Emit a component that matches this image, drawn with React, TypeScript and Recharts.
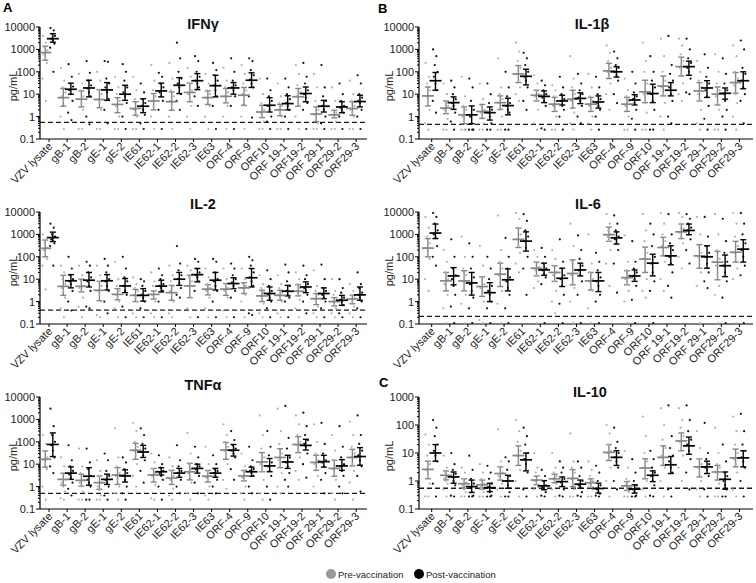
import React from 'react';
import { ComposedChart, Scatter, XAxis, YAxis, ReferenceLine, ErrorBar } from 'recharts';

const CATEGORIES = ['VZV lysate', 'gB-1', 'gB-2', 'gE-1', 'gE-2', 'IE61', 'IE62-1', 'IE62-2', 'IE62-3', 'IE63', 'ORF-4', 'ORF-9', 'ORF10', 'ORF 19-1', 'ORF19-2', 'ORF 29-1', 'ORF29-2', 'ORF29-3'];
const MAJORS_5 = [0.1, 1, 10, 100, 1000, 10000];
const MAJORS_4 = [0.1, 1, 10, 100, 1000];
const LEGEND = ['Pre-vaccination', 'Post-vaccination'];

// ---------- IFNγ ----------
const IFNG_PRE_MID = [720, 7, 6, 5.8, 3.5, 2.3, 5, 4.6, 12, 7, 8, 9, 1.6, 2, 7.7, 1.3, 1.2, 2.3];
const IFNG_PRE_LO = [330, 2.9, 2.7, 2.5, 1.5, 1.15, 2, 1.9, 4.6, 3.5, 4.1, 3.2, 0.9, 1.1, 2.9, 0.6, 0.87, 1.15];
const IFNG_PRE_HI = [1400, 18, 14, 16, 7, 4.6, 10.7, 12.6, 31, 14, 18, 20, 3.2, 3.5, 18, 2.7, 1.9, 4.6];
const IFNG_POST_MID = [3000, 16.6, 19, 15.5, 10, 2.9, 14, 25, 40, 24, 19, 42, 3.2, 3.8, 10.7, 2.9, 2.7, 4.7];
const IFNG_POST_LO = [2100, 10, 7.6, 5.3, 5.3, 1.5, 7.6, 10.7, 16, 7.6, 10, 20, 1.6, 2, 4.6, 1.6, 1.5, 2.7];
const IFNG_POST_HI = [5000, 31, 42, 33, 25, 6.3, 31, 55, 83, 70, 33, 90, 7, 8.5, 21, 5.3, 4.6, 9];
const IFNG_PRE_DOTS = [
  [4000, 2000, 1200, 900, 600, 400, 250, 50, 5],
  [150, 40, 20, 12, 8, 5, 3, 1, 0.28],
  [80, 30, 15, 8, 6, 4, 2, 0.28, 0.28],
  [100, 40, 15, 10, 6, 4, 2, 0.28, 0.28],
  [60, 20, 10, 5, 3, 2, 1, 0.28, 0.28],
  [60, 15, 6, 3, 2, 1.5, 1, 0.28, 0.28],
  [200, 40, 15, 8, 5, 3, 2, 1, 0.28],
  [250, 50, 15, 8, 5, 3, 2, 1, 0.28],
  [150, 60, 30, 15, 10, 6, 3, 1, 0.28],
  [80, 30, 15, 10, 7, 5, 3, 1, 0.28],
  [150, 40, 20, 12, 8, 5, 3, 1, 0.28],
  [200, 80, 30, 15, 10, 6, 3, 1, 0.28],
  [50, 10, 4, 2, 1.5, 1, 0.6, 0.28, 0.28],
  [30, 8, 4, 3, 2, 1.5, 1, 0.28, 0.28],
  [200, 80, 25, 12, 8, 5, 3, 1, 0.28],
  [80, 20, 5, 2, 1.2, 0.8, 0.5, 0.28, 0.28],
  [20, 5, 2, 1.5, 1.2, 0.9, 0.6, 0.28, 0.28],
  [40, 10, 5, 3, 2, 1.5, 1, 0.28, 0.28],
];
const IFNG_POST_DOTS = [
  [9000, 7000, 5000, 4000, 3000, 2500, 1800, 1200, 100],
  [220, 60, 30, 22, 15, 10, 5, 1.5, 0.7],
  [300, 90, 40, 25, 18, 12, 8, 1, 0.45],
  [300, 280, 50, 30, 20, 12, 6, 2, 0.5],
  [220, 100, 40, 20, 12, 8, 4, 1, 0.28],
  [30, 12, 6, 4, 3, 2, 1.2, 0.5, 0.28],
  [90, 60, 30, 20, 12, 8, 5, 2, 0.28],
  [2000, 400, 100, 50, 30, 20, 10, 5, 2],
  [500, 300, 100, 60, 40, 30, 20, 8, 3],
  [250, 120, 70, 40, 25, 15, 8, 3, 0.28],
  [400, 100, 40, 25, 20, 15, 8, 3, 0.28],
  [400, 300, 120, 70, 45, 30, 20, 8, 0.9],
  [50, 15, 8, 5, 3, 2, 1, 0.6, 0.28],
  [50, 20, 10, 6, 4, 3, 2, 1, 0.28],
  [250, 60, 30, 15, 10, 7, 4, 2, 0.28],
  [200, 20, 8, 5, 3, 2, 1, 0.5, 0.28],
  [30, 10, 5, 3, 2.5, 2, 1.5, 1, 0.28],
  [70, 30, 10, 7, 5, 4, 2, 1, 0.28],
];

// ---------- IL-1β ----------
const IL1B_PRE_MID = [8.4, 2.4, 1.2, 1.7, 4.2, 80, 9, 3.6, 6, 3.6, 110, 3.6, 12.7, 23, 170, 14, 10, 33];
const IL1B_PRE_LO = [3, 1.35, 0.48, 0.83, 2.1, 33, 5, 1.7, 2.4, 1.7, 50, 1.7, 4.2, 8.4, 65, 5, 3.3, 11];
const IL1B_PRE_HI = [21, 5, 2.7, 3.5, 8.4, 190, 15, 7.2, 15, 7.2, 240, 7.2, 42, 65, 450, 33, 21, 93];
const IL1B_POST_MID = [40, 4.2, 1.2, 1.5, 3.1, 63, 8, 5, 6.5, 4.5, 100, 5.5, 10.7, 15, 170, 19, 11, 40];
const IL1B_POST_LO = [15, 2.1, 0.48, 0.7, 1.2, 26, 4.2, 3.3, 3.8, 2.4, 58, 3.3, 4.2, 8.4, 70, 7.2, 6, 17.5];
const IL1B_POST_HI = [93, 7.6, 3, 2.7, 6.6, 130, 14, 9, 11.5, 8.4, 170, 9.5, 28, 33, 300, 40, 19, 100];
const IL1B_PRE_DOTS = [
  [250, 60, 30, 15, 8, 4, 2, 0.5, 0.26],
  [30, 10, 5, 3, 2, 1.5, 0.8, 0.26, 0.26],
  [60, 8, 3, 2, 1, 0.6, 0.26, 0.26, 0.26],
  [30, 6, 3, 2, 1.5, 1, 0.5, 0.26, 0.26],
  [400, 20, 10, 6, 4, 2, 1, 0.26, 0.26],
  [2000, 800, 300, 150, 80, 40, 20, 10, 5],
  [70, 30, 15, 10, 8, 5, 2, 0.5, 0.26],
  [25, 15, 8, 5, 3, 2, 1, 0.26, 0.26],
  [500, 50, 20, 10, 5, 3, 1.5, 0.5, 0.26],
  [80, 20, 8, 5, 3, 2, 1, 0.5, 0.26],
  [1500, 700, 300, 150, 100, 60, 30, 10, 2],
  [50, 15, 8, 5, 3, 2, 1, 0.26, 0.26],
  [2000, 300, 100, 30, 10, 4, 1.5, 0.26, 0.26],
  [3000, 500, 100, 40, 20, 10, 4, 1, 0.26],
  [3000, 1500, 600, 300, 150, 80, 30, 10, 5],
  [300, 100, 40, 20, 10, 5, 2, 0.5, 0.26],
  [600, 100, 30, 15, 8, 4, 2, 0.26, 0.26],
  [1500, 500, 100, 50, 25, 10, 4, 1, 0.26],
];
const IL1B_POST_DOTS = [
  [1000, 500, 200, 100, 60, 30, 15, 5, 1.5],
  [40, 20, 10, 6, 4, 3, 1.5, 0.6, 0.26],
  [50, 20, 5, 2, 1, 0.5, 0.26, 0.26, 0.26],
  [30, 10, 4, 2, 1.5, 1, 0.5, 0.26, 0.26],
  [100, 20, 8, 4, 3, 2, 1.5, 0.26, 0.26],
  [700, 400, 200, 100, 60, 40, 20, 5, 2],
  [40, 25, 15, 10, 7, 5, 3, 0.3, 0.26],
  [60, 20, 10, 6, 5, 3, 2, 1, 0.26],
  [80, 30, 15, 10, 7, 5, 3, 1, 0.5],
  [60, 20, 10, 6, 4, 3, 2, 1, 0.26],
  [800, 400, 200, 150, 100, 70, 40, 10, 4],
  [100, 30, 12, 8, 6, 4, 2, 0.8, 0.26],
  [500, 100, 40, 20, 10, 5, 2, 0.26, 0.26],
  [4000, 200, 80, 40, 20, 10, 5, 1, 0.5],
  [3000, 1000, 400, 250, 150, 100, 50, 12, 10],
  [600, 150, 60, 30, 15, 8, 3, 0.8, 0.26],
  [400, 80, 30, 15, 10, 5, 2, 1, 0.26],
  [2500, 1000, 150, 80, 40, 20, 10, 5, 0.5],
];

// ---------- IL-2 ----------
const IL2_PRE_MID = [240, 4.8, 4.8, 3.2, 2.1, 1.9, 2.1, 2.5, 5, 3.6, 3.6, 4.1, 1.8, 1.9, 2.9, 1.35, 1, 1.3];
const IL2_PRE_LO = [100, 1.9, 2.7, 1.1, 1.2, 1, 1.3, 1.15, 1.5, 2, 1.9, 2.3, 1, 1.15, 1.8, 0.73, 0.64, 0.8];
const IL2_PRE_HI = [560, 15, 10, 8, 3.8, 3.5, 3, 5.3, 15, 5.7, 6.4, 7, 3.2, 3.2, 5.7, 2.3, 1.5, 1.9];
const IL2_POST_MID = [720, 8.5, 9, 8.5, 5, 1.9, 4.9, 10, 16, 9, 6.4, 11.6, 2.3, 2.9, 4.5, 2.3, 1.15, 2];
const IL2_POST_LO = [480, 4.1, 4.5, 3.3, 2.5, 1.05, 2.7, 5.3, 7.6, 3.3, 3.8, 4.5, 1.15, 1.8, 2.5, 1.35, 0.68, 1.15];
const IL2_POST_HI = [1260, 16, 20, 16, 10.7, 3.8, 9, 20, 30, 20, 11.6, 30, 4.5, 5.3, 7.6, 4.1, 1.9, 4.5];
const IL2_PRE_DOTS = [
  [1000, 600, 400, 250, 200, 150, 80, 40, 3.5],
  [40, 20, 10, 6, 4, 3, 1.5, 0.5, 0.2],
  [40, 15, 8, 5, 4, 3, 1.5, 0.6, 0.2],
  [40, 15, 8, 5, 3, 2, 1, 0.25, 0.2],
  [60, 10, 5, 3, 2, 1.5, 1, 0.5, 0.2],
  [12, 6, 4, 3, 2, 1.5, 1, 0.3, 0.2],
  [20, 8, 5, 3, 2, 1.5, 1, 0.3, 0.2],
  [40, 15, 8, 5, 3, 2, 1, 0.3, 0.2],
  [40, 25, 12, 8, 5, 3, 1.5, 0.5, 0.2],
  [30, 12, 6, 4, 3, 2.5, 1.5, 0.5, 0.2],
  [30, 10, 6, 4, 3, 2.5, 1.5, 0.4, 0.2],
  [30, 10, 6, 5, 4, 3, 2, 1, 0.2],
  [15, 6, 4, 2.5, 1.8, 1.2, 0.8, 0.3, 0.2],
  [15, 6, 4, 2.5, 2, 1.5, 1, 0.3, 0.2],
  [20, 10, 6, 4, 3, 2, 1.2, 0.5, 0.2],
  [25, 5, 3, 2, 1.3, 1, 0.6, 0.3, 0.2],
  [10, 3, 2, 1.5, 1, 0.7, 0.5, 0.3, 0.2],
  [6, 3, 2, 1.5, 1.3, 1, 0.6, 0.3, 0.2],
];
const IL2_POST_DOTS = [
  [3000, 2000, 1000, 800, 600, 500, 400, 300, 40],
  [100, 30, 15, 10, 8, 6, 3, 1, 0.4],
  [60, 40, 20, 12, 8, 5, 3, 0.6, 0.5],
  [80, 40, 20, 10, 8, 5, 3, 1, 0.3],
  [100, 30, 12, 8, 5, 3, 2, 0.6, 0.2],
  [10, 8, 5, 3, 2, 1.5, 1, 0.5, 0.2],
  [30, 15, 10, 6, 5, 4, 3, 1, 0.2],
  [300, 50, 25, 15, 10, 7, 4, 2, 1.5],
  [80, 60, 30, 20, 15, 12, 8, 3, 0.2],
  [80, 60, 20, 10, 8, 5, 3, 1, 0.2],
  [50, 30, 15, 10, 7, 5, 3, 1.5, 0.2],
  [100, 70, 40, 20, 12, 8, 5, 0.3, 0.25],
  [25, 10, 5, 3, 2, 1.5, 1, 0.5, 0.2],
  [45, 20, 8, 5, 3, 2, 1.5, 1, 0.2],
  [40, 15, 10, 6, 4, 3, 2, 1, 0.3],
  [45, 10, 4, 3, 2, 1.5, 1, 0.5, 0.2],
  [10, 4, 2.5, 1.5, 1.2, 1, 0.7, 0.3, 0.2],
  [20, 6, 4, 2.5, 2, 1.5, 1, 0.5, 0.2],
];

// ---------- IL-6 ----------
const IL6_PRE_MID = [245, 8.4, 8.4, 4.7, 16.7, 600, 31, 20, 18, 8.4, 970, 11.7, 79, 260, 1300, 110, 58, 160];
const IL6_PRE_LO = [100, 3, 3, 1.7, 4.7, 260, 14, 8, 5.6, 3.3, 490, 5.6, 20, 110, 650, 31, 9.4, 58];
const IL6_PRE_HI = [650, 20, 24, 12.7, 52, 1900, 58, 40, 73, 20, 2100, 24, 270, 740, 2900, 350, 175, 490];
const IL6_POST_MID = [1150, 14, 6.8, 2.5, 9.4, 500, 26, 11, 26, 8.4, 700, 14, 52, 110, 1500, 100, 40, 220];
const IL6_POST_LO = [650, 5.6, 1.95, 1, 3, 180, 15, 4.7, 14, 2.8, 370, 8, 14, 44, 970, 31, 13, 58];
const IL6_POST_HI = [2900, 33, 20, 7, 29, 1300, 52, 31, 52, 20, 1300, 26, 130, 310, 2900, 310, 120, 580];
const IL6_PRE_DOTS = [
  [6000, 2000, 800, 400, 250, 150, 80, 10, 3],
  [200, 60, 20, 10, 6, 4, 2, 0.5, 0.11],
  [800, 100, 30, 15, 8, 5, 2, 0.8, 0.11],
  [300, 40, 12, 6, 4, 2, 1, 0.15, 0.11],
  [7000, 200, 60, 30, 15, 8, 3, 0.8, 0.11],
  [9000, 5000, 2000, 1000, 600, 300, 150, 50, 20],
  [200, 100, 60, 35, 25, 15, 8, 4, 0.11],
  [200, 80, 40, 20, 15, 8, 3, 1, 0.3],
  [3000, 300, 60, 25, 15, 8, 4, 1, 0.11],
  [1000, 50, 20, 10, 8, 5, 3, 0.5, 0.11],
  [8000, 3000, 1500, 1000, 800, 500, 200, 50, 5],
  [900, 60, 25, 15, 10, 6, 3, 1, 0.11],
  [8000, 1500, 500, 150, 80, 30, 10, 3, 1.5],
  [9000, 3000, 1000, 500, 300, 150, 60, 10, 3],
  [9000, 6000, 3000, 1800, 1200, 800, 400, 100, 30],
  [6000, 1000, 300, 150, 100, 50, 20, 5, 0.11],
  [8000, 1000, 200, 80, 40, 15, 5, 2, 0.11],
  [9000, 3000, 800, 300, 150, 80, 30, 10, 0.11],
];
const IL6_POST_DOTS = [
  [9000, 6000, 3000, 1500, 1000, 700, 300, 100, 40],
  [600, 100, 30, 15, 10, 5, 2, 0.6, 0.11],
  [400, 100, 30, 12, 6, 3, 1.5, 0.5, 0.11],
  [100, 30, 10, 5, 3, 2, 1, 0.5, 0.11],
  [700, 100, 30, 12, 8, 4, 2, 0.5, 0.11],
  [8000, 4000, 1500, 800, 500, 250, 100, 30, 2],
  [250, 100, 50, 30, 25, 18, 12, 6, 0.11],
  [600, 60, 30, 15, 10, 5, 2, 0.8, 0.11],
  [900, 200, 80, 40, 25, 15, 8, 2, 0.11],
  [150, 60, 25, 12, 8, 5, 2, 1, 0.11],
  [7000, 3000, 1500, 800, 600, 400, 200, 50, 2.5],
  [500, 60, 30, 20, 14, 10, 5, 1.2, 0.11],
  [3000, 1000, 300, 100, 50, 20, 8, 3, 0.11],
  [8000, 1000, 400, 200, 100, 50, 20, 5, 1.5],
  [8000, 5000, 3000, 2000, 1500, 1000, 600, 200, 50],
  [6000, 800, 300, 150, 100, 50, 20, 8, 4],
  [5000, 500, 150, 60, 40, 20, 8, 1.5, 0.11],
  [9000, 3000, 1000, 400, 200, 100, 40, 15, 0.11],
];

// ---------- TNFα ----------
const TNF_PRE_MID = [16.6, 2.1, 1.9, 1.5, 3.3, 42, 3.3, 2.4, 4.6, 2.9, 43, 3, 12.6, 20, 76, 12, 6.5, 20];
const TNF_PRE_LO = [7.4, 1.15, 1.05, 0.76, 1.25, 16.6, 1.6, 1.25, 2, 1.6, 16.6, 1.8, 4.6, 7, 33, 5.3, 2.9, 8.4];
const TNF_PRE_HI = [39, 3.9, 3.6, 3, 7, 85, 6.5, 5.3, 11, 5.3, 93, 5.3, 33, 49, 170, 25, 15, 46];
const TNF_POST_MID = [76, 4, 2.9, 2.1, 3, 35, 4.6, 4, 6.5, 4, 42, 4.6, 8.4, 12.6, 69, 13, 8.4, 22];
const TNF_POST_LO = [22, 2.1, 1.15, 1.25, 1.6, 20, 3.3, 2.6, 4, 2.6, 23, 2.9, 4.6, 6.5, 43, 7.4, 5.3, 9];
const TNF_POST_HI = [250, 7.6, 7, 3.6, 5.6, 69, 7, 6.5, 10, 6.5, 76, 7.4, 18, 25, 130, 25, 16, 55];
const TNF_PRE_DOTS = [
  [200, 80, 40, 20, 15, 10, 6, 1, 0.26],
  [20, 8, 4, 2, 1.5, 1, 0.6, 0.3, 0.26],
  [50, 8, 4, 2, 1.5, 1, 0.6, 0.26, 0.26],
  [15, 5, 3, 1.5, 1, 0.7, 0.4, 0.26, 0.26],
  [400, 20, 8, 4, 3, 2, 1, 0.5, 0.26],
  [700, 300, 100, 60, 40, 25, 10, 3, 1],
  [30, 12, 6, 4, 3, 2, 1.2, 0.3, 0.26],
  [20, 8, 5, 3, 2, 1.5, 0.8, 0.4, 0.26],
  [250, 30, 10, 6, 4, 3, 1.5, 0.5, 0.26],
  [60, 10, 5, 3, 2.5, 2, 1, 0.4, 0.26],
  [600, 200, 100, 60, 40, 25, 10, 2, 0.8],
  [30, 8, 5, 3, 2.5, 2, 1, 0.5, 0.26],
  [1500, 200, 50, 20, 10, 5, 2, 0.5, 0.26],
  [3000, 300, 80, 30, 15, 8, 4, 1, 0.5],
  [1500, 600, 200, 100, 70, 40, 20, 5, 2],
  [600, 100, 30, 15, 10, 6, 3, 1, 0.5],
  [200, 40, 15, 8, 6, 4, 2, 0.5, 0.26],
  [800, 200, 60, 30, 20, 10, 5, 1.5, 0.26],
];
const TNF_POST_DOTS = [
  [3000, 500, 200, 100, 70, 40, 20, 8, 4],
  [70, 15, 8, 5, 3.5, 2.5, 1.5, 0.8, 0.4],
  [50, 12, 6, 3, 2, 1.5, 1, 0.26, 0.26],
  [30, 15, 5, 3, 2, 1.5, 1, 0.4, 0.26],
  [20, 12, 6, 4, 3, 2, 1, 0.5, 0.26],
  [400, 200, 80, 50, 35, 25, 15, 5, 1.5],
  [25, 10, 7, 5, 4, 3, 2, 1, 0.26],
  [70, 15, 8, 5, 4, 3, 2, 1, 0.5],
  [60, 20, 10, 8, 6, 5, 3, 1.5, 0.5],
  [25, 10, 6, 5, 4, 3, 2, 1, 0.5],
  [300, 120, 70, 50, 40, 30, 20, 6, 2],
  [60, 15, 8, 6, 5, 4, 3, 1, 0.5],
  [300, 60, 25, 12, 8, 5, 3, 1, 0.26],
  [4000, 150, 50, 20, 12, 8, 4, 2, 1],
  [2000, 500, 200, 120, 80, 60, 30, 10, 2.5],
  [700, 80, 30, 15, 12, 8, 4, 2, 0.5],
  [500, 60, 20, 10, 8, 5, 3, 1, 0.5],
  [1500, 200, 80, 40, 25, 15, 8, 3, 0.6],
];

// ---------- IL-10 ----------
const IL10_PRE_MID = [2.6, 1.6, 0.8, 0.73, 1.85, 8.1, 1.08, 1.2, 1.24, 0.87, 10.5, 0.67, 2.9, 7, 27, 3.2, 2.1, 6.7];
const IL10_PRE_LO = [1.2, 1.1, 0.55, 0.51, 1.08, 3.6, 0.73, 0.87, 0.63, 0.6, 5.4, 0.46, 1.2, 3.6, 12, 1.4, 1.08, 3.2];
const IL10_PRE_HI = [5.1, 2.3, 1.2, 1.08, 3.2, 18, 1.5, 1.75, 2.55, 1.2, 20, 0.95, 6.2, 18, 52, 6.2, 3.6, 13.8];
const IL10_POST_MID = [10, 1.4, 0.63, 0.58, 1.0, 5.7, 0.67, 0.95, 0.77, 0.54, 7, 0.51, 1.6, 3.8, 18, 3.2, 1.15, 6.7];
const IL10_POST_LO = [5.1, 0.83, 0.39, 0.42, 0.55, 2.3, 0.49, 0.63, 0.55, 0.37, 3.6, 0.37, 0.95, 1.85, 9, 1.85, 0.51, 3.2];
const IL10_POST_HI = [20, 2.1, 1.08, 0.83, 1.6, 10, 1.03, 1.4, 1.08, 0.83, 12, 0.73, 2.3, 7.5, 37, 5.1, 2.1, 12];
const IL10_PRE_DOTS = [
  [45, 20, 8, 4, 2.5, 1.5, 0.8, 0.28, 0.28],
  [8, 3, 2, 1.5, 1.2, 1, 0.8, 0.5, 0.28],
  [3, 2, 1.2, 0.9, 0.7, 0.5, 0.4, 0.28, 0.28],
  [4, 2, 1.2, 0.8, 0.6, 0.5, 0.4, 0.28, 0.28],
  [70, 5, 3, 2, 1.5, 1.2, 0.8, 0.5, 0.28],
  [150, 60, 25, 12, 8, 5, 2.5, 1, 0.28],
  [10, 3, 2, 1.5, 1, 0.8, 0.6, 0.5, 0.28],
  [10, 3, 2, 1.5, 1.2, 1, 0.8, 0.5, 0.28],
  [50, 5, 3, 2, 1.2, 0.8, 0.5, 0.28, 0.28],
  [5, 2.5, 1.5, 1, 0.8, 0.6, 0.5, 0.28, 0.28],
  [100, 50, 20, 12, 10, 6, 3, 1, 0.28],
  [12, 3, 1.2, 1, 0.7, 0.5, 0.4, 0.28, 0.28],
  [200, 40, 10, 5, 3, 2, 1, 0.5, 0.28],
  [400, 100, 30, 15, 8, 5, 3, 1, 0.28],
  [400, 150, 80, 40, 25, 15, 8, 3, 1],
  [60, 15, 6, 4, 3, 2, 1, 0.5, 0.28],
  [80, 10, 4, 3, 2, 1.5, 0.8, 0.28, 0.28],
  [200, 60, 20, 10, 6, 4, 2, 0.5, 0.28],
];
const IL10_POST_DOTS = [
  [150, 80, 40, 20, 12, 8, 5, 0.8, 0.28],
  [10, 4, 2.5, 1.8, 1.4, 1, 0.7, 0.3, 0.28],
  [8, 2.5, 1.2, 0.8, 0.6, 0.4, 0.3, 0.28, 0.28],
  [3.5, 2, 1.2, 0.8, 0.6, 0.4, 0.3, 0.28, 0.28],
  [7, 5, 2.5, 1.5, 1, 0.7, 0.4, 0.28, 0.28],
  [80, 40, 20, 10, 6, 4, 2, 0.5, 0.28],
  [2.5, 1.5, 1, 0.7, 0.6, 0.5, 0.4, 0.3, 0.28],
  [5, 3, 2, 1.2, 0.9, 0.7, 0.5, 0.3, 0.28],
  [5, 3, 1.5, 1, 0.7, 0.6, 0.4, 0.3, 0.28],
  [3.5, 2, 1, 0.7, 0.5, 0.4, 0.35, 0.3, 0.28],
  [80, 25, 15, 10, 7, 5, 3, 1, 0.5],
  [6, 2, 1, 0.7, 0.5, 0.4, 0.3, 0.28, 0.28],
  [12, 6, 3, 2, 1.5, 1, 0.7, 0.3, 0.28],
  [500, 40, 15, 8, 5, 3, 2, 0.5, 0.28],
  [500, 150, 60, 30, 20, 12, 6, 2, 0.5],
  [120, 10, 6, 4, 3, 2.5, 1.5, 0.5, 0.28],
  [20, 5, 2, 1.5, 1, 0.7, 0.5, 0.28, 0.28],
  [250, 60, 20, 12, 7, 5, 3, 1, 0.28],
];

// ---------- styling ----------
const FONT = '"Liberation Sans", Arial, Helvetica, sans-serif';
const PRE_DOT = '#b0b0b0';
const POST_DOT = '#111111';
const PRE_BAR = '#858585';
const POST_BAR = '#000000';
const PRE_LEGEND = '#999999';
const TEXT = '#222222';
const JITTER = [-0.13, 0.05, -0.04, 0.12, -0.09, 0.0, 0.09, -0.15, 0.03];
const SIDE = 0.21;

function logTicks(majors: number[]) {
  const out: number[] = [];
  for (let i = 0; i < majors.length - 1; i++) {
    for (let k = 1; k < 10; k++) out.push(+(majors[i] * k).toPrecision(3));
  }
  out.push(majors[majors.length - 1]);
  return out;
}

function dotRows(dots: number[][], side: number) {
  const rows: { x: number; y: number }[] = [];
  dots.forEach((vals, i) =>
    vals.forEach((v, k) => rows.push({ x: i + side * SIDE + JITTER[k % JITTER.length], y: v }))
  );
  return rows;
}

function barRows(mid: number[], lo: number[], hi: number[], side: number) {
  return mid.map((m, i) => ({ x: i + side * SIDE, y: m, err: [m - lo[i], hi[i] - m] }));
}

const dotShape = (fill: string) => (p: any) => <circle cx={p.cx} cy={p.cy} r={1.1} fill={fill} />;
const meanShape = (stroke: string) => (p: any) => (
  <line x1={p.cx - 6} x2={p.cx + 6} y1={p.cy} y2={p.cy} stroke={stroke} strokeWidth={1.7} />
);

const renderXTick = (p: any) => {
  const { x, y, payload } = p;
  const label = CATEGORIES[payload.value] ?? '';
  const tx = x + 4;
  const ty = y + 8;
  return (
    <g>
      <line x1={x} x2={x} y1={y} y2={y + 3} stroke="#000" strokeWidth={1} />
      <text x={tx} y={ty} textAnchor="end" transform={`rotate(-45 ${tx} ${ty})`} fontSize={11} fill={TEXT} fontFamily={FONT}>
        {label}
      </text>
    </g>
  );
};

const makeYTick = (majors: number[]) => (p: any) => {
  const { x, y, payload } = p;
  const v = payload.value as number;
  const major = majors.some((m) => Math.abs(m - v) / m < 1e-6);
  return (
    <g>
      <line x1={x - (major ? 4 : 2)} x2={x} y1={y} y2={y} stroke="#000" strokeWidth={1} />
      {major && (
        <text x={x - 5} y={y + 4} textAnchor="end" fontSize={11} fill={TEXT} stroke="none" fontFamily={FONT}>
          {v < 1 ? String(v) : String(Math.round(v))}
        </text>
      )}
    </g>
  );
};

type PanelDef = {
  left: number;
  top: number;
  width: number;
  yAxisWidth: number;
  marginRight: number;
  xDomain: [number, number];
  majors: number[];
  dash: number;
  preDots: number[][];
  postDots: number[][];
  preMid: number[];
  preLo: number[];
  preHi: number[];
  postMid: number[];
  postLo: number[];
  postHi: number[];
};

function Panel({ def }: { def: PanelDef }) {
  const yTicks = logTicks(def.majors);
  const axisStyle = { stroke: '#000', strokeWidth: 1.2 };
  return (
    <div style={{ position: 'absolute', left: def.left, top: def.top }}>
      <ComposedChart width={def.width} height={190} margin={{ top: 27, right: def.marginRight, bottom: 6, left: 0 }}>
        <XAxis
          type="number"
          dataKey="x"
          domain={def.xDomain}
          ticks={CATEGORIES.map((_, i) => i)}
          interval={0}
          allowDataOverflow
          tickSize={0}
          tickMargin={0}
          tickLine={false}
          tick={renderXTick}
          height={45}
          axisLine={axisStyle}
        />
        <YAxis
          type="number"
          dataKey="y"
          scale="log"
          domain={[def.majors[0], def.majors[def.majors.length - 1]]}
          ticks={yTicks}
          interval={0}
          allowDataOverflow
          width={def.yAxisWidth}
          tickSize={0}
          tickMargin={0}
          tickLine={false}
          tick={makeYTick(def.majors)}
          axisLine={axisStyle}
        />
        <ReferenceLine y={def.dash} stroke="#1a1a1a" strokeWidth={1.3} strokeDasharray="5 3" />
        <Scatter data={dotRows(def.preDots, -1)} dataKey="y" fill={PRE_DOT} shape={dotShape(PRE_DOT)} isAnimationActive={false} />
        <Scatter data={dotRows(def.postDots, 1)} dataKey="y" fill={POST_DOT} shape={dotShape(POST_DOT)} isAnimationActive={false} />
        <Scatter data={barRows(def.preMid, def.preLo, def.preHi, -1)} dataKey="y" fill={PRE_BAR} shape={meanShape(PRE_BAR)} isAnimationActive={false}>
          <ErrorBar dataKey="err" direction="y" width={3} stroke={PRE_BAR} strokeWidth={1.4} isAnimationActive={false} />
        </Scatter>
        <Scatter data={barRows(def.postMid, def.postLo, def.postHi, 1)} dataKey="y" fill={POST_BAR} shape={meanShape(POST_BAR)} isAnimationActive={false}>
          <ErrorBar dataKey="err" direction="y" width={3} stroke={POST_BAR} strokeWidth={1.4} isAnimationActive={false} />
        </Scatter>
      </ComposedChart>
    </div>
  );
}

const LEFT = { width: 376, yAxisWidth: 40, marginRight: 9, xDomain: [-0.5, 17.6] as [number, number] };
const RIGHT = { width: 380, yAxisWidth: 43, marginRight: 3, xDomain: [-0.7, 17.75] as [number, number] };

const PANELS: PanelDef[] = [
  { ...LEFT, left: 0, top: 0, majors: MAJORS_5, dash: 0.55, preDots: IFNG_PRE_DOTS, postDots: IFNG_POST_DOTS, preMid: IFNG_PRE_MID, preLo: IFNG_PRE_LO, preHi: IFNG_PRE_HI, postMid: IFNG_POST_MID, postLo: IFNG_POST_LO, postHi: IFNG_POST_HI },
  { ...RIGHT, left: 376, top: 0, majors: MAJORS_5, dash: 0.45, preDots: IL1B_PRE_DOTS, postDots: IL1B_POST_DOTS, preMid: IL1B_PRE_MID, preLo: IL1B_PRE_LO, preHi: IL1B_PRE_HI, postMid: IL1B_POST_MID, postLo: IL1B_POST_LO, postHi: IL1B_POST_HI },
  { ...LEFT, left: 0, top: 185, majors: MAJORS_5, dash: 0.42, preDots: IL2_PRE_DOTS, postDots: IL2_POST_DOTS, preMid: IL2_PRE_MID, preLo: IL2_PRE_LO, preHi: IL2_PRE_HI, postMid: IL2_POST_MID, postLo: IL2_POST_LO, postHi: IL2_POST_HI },
  { ...RIGHT, left: 376, top: 185, majors: MAJORS_5, dash: 0.22, preDots: IL6_PRE_DOTS, postDots: IL6_POST_DOTS, preMid: IL6_PRE_MID, preLo: IL6_PRE_LO, preHi: IL6_PRE_HI, postMid: IL6_POST_MID, postLo: IL6_POST_LO, postHi: IL6_POST_HI },
  { ...LEFT, left: 0, top: 370, majors: MAJORS_5, dash: 0.5, preDots: TNF_PRE_DOTS, postDots: TNF_POST_DOTS, preMid: TNF_PRE_MID, preLo: TNF_PRE_LO, preHi: TNF_PRE_HI, postMid: TNF_POST_MID, postLo: TNF_POST_LO, postHi: TNF_POST_HI },
  { ...RIGHT, left: 376, top: 370, majors: MAJORS_4, dash: 0.55, preDots: IL10_PRE_DOTS, postDots: IL10_POST_DOTS, preMid: IL10_PRE_MID, preLo: IL10_PRE_LO, preHi: IL10_PRE_HI, postMid: IL10_POST_MID, postLo: IL10_POST_LO, postHi: IL10_POST_HI },
];

const TITLES = [
  { text: 'IFNγ', x: 203, y: 29 },
  { text: 'IL-1β', x: 592, y: 29 },
  { text: 'IL-2', x: 203, y: 209 },
  { text: 'IL-6', x: 588, y: 209 },
  { text: 'TNFα', x: 203, y: 390 },
  { text: 'IL-10', x: 590, y: 397 },
];
const LETTERS = [
  { text: 'A', x: 3, y: 12 },
  { text: 'B', x: 378, y: 13 },
  { text: 'C', x: 379, y: 387 },
];
const YLABELS = [
  { x: 17, y: 86 },
  { x: 393, y: 86 },
  { x: 17, y: 271 },
  { x: 393, y: 271 },
  { x: 17, y: 456 },
  { x: 393, y: 456 },
];

export default function App() {
  return (
    <div style={{ position: 'absolute', left: 0, top: 0, width: 756, height: 583, background: '#fff', overflow: 'hidden', fontFamily: FONT }}>
      {PANELS.map((d, i) => (
        <Panel key={i} def={d} />
      ))}
      <svg width={756} height={583} style={{ position: 'absolute', left: 0, top: 0, pointerEvents: 'none' }}>
        {TITLES.map((t) => (
          <text key={t.text} x={t.x} y={t.y} textAnchor="middle" fontSize={14.5} fontWeight="bold" fill="#111" fontFamily={FONT}>
            {t.text}
          </text>
        ))}
        {LETTERS.map((t) => (
          <text key={t.text} x={t.x} y={t.y} fontSize={13} fontWeight="bold" fill="#000" fontFamily={FONT}>
            {t.text}
          </text>
        ))}
        {YLABELS.map((t, i) => (
          <text key={i} x={t.x} y={t.y} textAnchor="middle" transform={`rotate(-90 ${t.x} ${t.y})`} fontSize={11} fill={TEXT} fontFamily={FONT}>
            pg/mL
          </text>
        ))}
        <circle cx={331} cy={574} r={5} fill={PRE_LEGEND} />
        <text x={338} y={578} fontSize={9.5} fill={TEXT} fontFamily={FONT}>{LEGEND[0]}</text>
        <circle cx={419} cy={574} r={5} fill="#000" />
        <text x={426} y={578} fontSize={9.5} fill={TEXT} fontFamily={FONT}>{LEGEND[1]}</text>
      </svg>
    </div>
  );
}
